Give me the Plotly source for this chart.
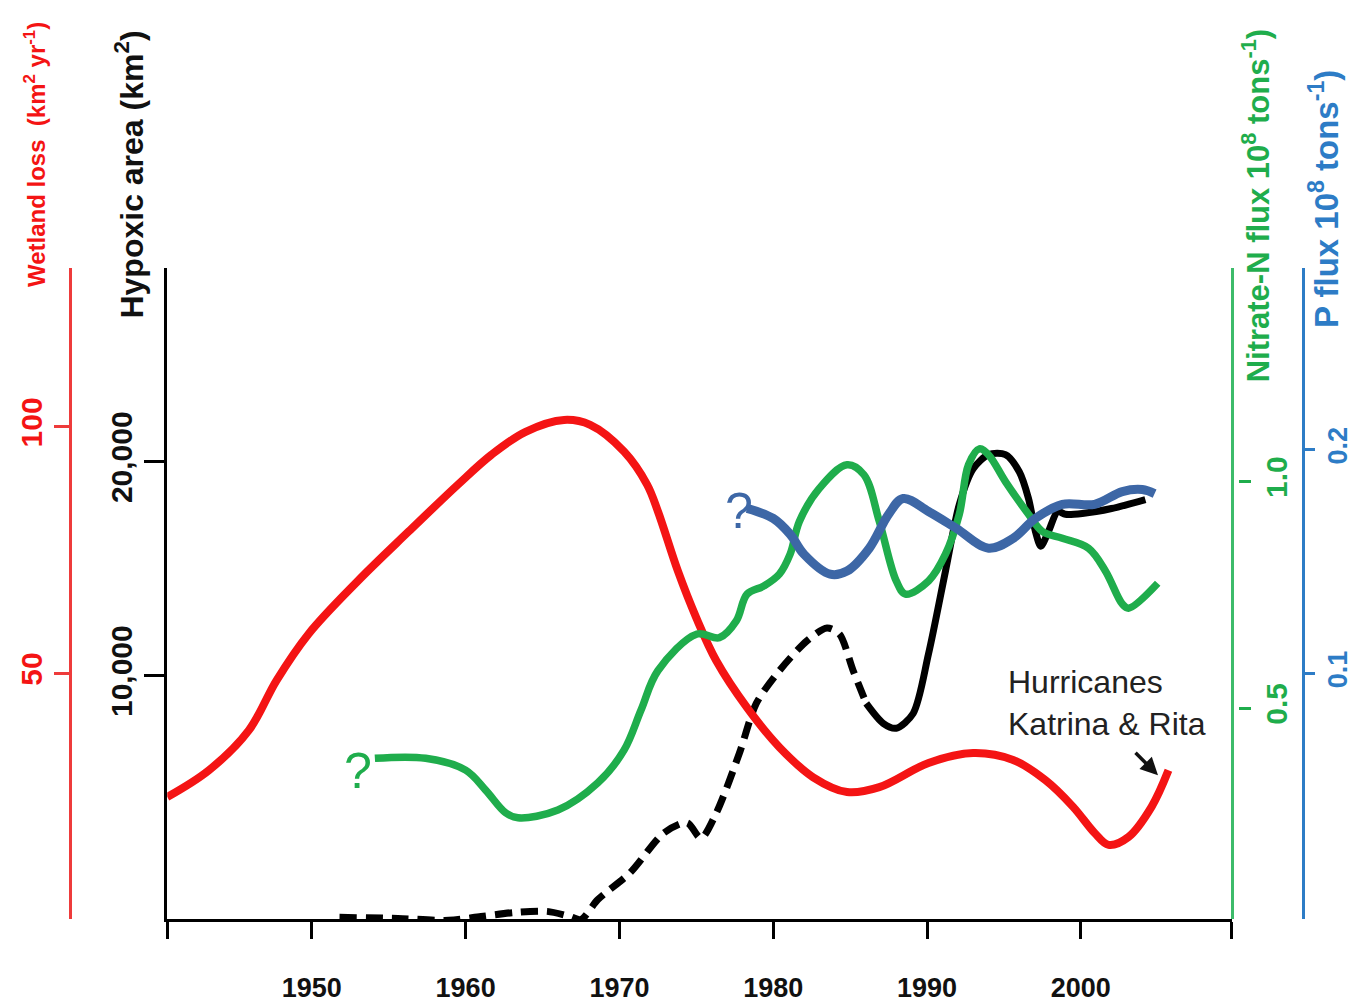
import plotly.graph_objects as go

# ---------------- data ----------------
# Wetland loss (km2 / yr)  -- red
wet_years = [1940.6, 1943.3, 1945.9, 1947.7, 1949.8, 1953.0, 1956.3, 1959.5, 1961.7, 1963.9,
             1966.4, 1968.1, 1970.3, 1971.8, 1972.5, 1973.8, 1975.0, 1976.3, 1978.3, 1980.4,
             1982.6, 1984.8, 1986.9, 1990.1, 1993.0, 1995.6, 1997.7, 1999.5, 2000.9, 2001.8,
             2003.1, 2004.6, 2005.7]
wet_loss = [25.0, 30.4, 38.5, 48.6, 58.1, 68.8, 78.8, 88.3, 94.4, 99.0,
            101.4, 100.4, 95.0, 88.3, 82.9, 70.8, 61.3, 52.6, 43.1, 35.1,
            29.0, 26.0, 27.0, 31.9, 33.9, 32.5, 28.4, 23.0, 17.7, 15.3,
            16.9, 23.0, 30.4]

# Hypoxic area (km2) -- black, dashed (estimated) part and measured part
hyp_est_years = [1951.8, 1955.6, 1958.9, 1961.0, 1963.2, 1965.3, 1966.8, 1967.5, 1968.6, 1970.7,
                 1972.9, 1974.4, 1975.3, 1976.3, 1977.8, 1978.9, 1980.4, 1982.2, 1983.5, 1984.3,
                 1985.2, 1986.05]
hyp_est = [-1300, -1350, -1440, -1260, -1070, -1020, -1260, -1400, -470, 790,
           2650, 3120, 2400, 3580, 6370, 8700, 10230, 11630, 12230, 11950,
           10230, 8700]
hyp_years = [1986.05, 1987.15, 1988.0, 1989.1, 1990.1, 1991.2, 1992.1, 1993.0, 1994.0, 1995.1,
             1996.0, 1996.6, 1997.05, 1997.4, 1997.9, 1998.5, 1999.0, 2000.1, 2002.0, 2004.2]
hyp_area = [8700, 7770, 7540, 8230, 11020, 14880, 18000, 19670, 20330, 20330,
            19530, 18280, 16740, 16050, 16740, 17670, 17540, 17580, 17810, 18230]

# Nitrate-N flux (10^6 tons) -- green
no3_years = [1954.1, 1957.4, 1960.0, 1961.3, 1962.6, 1963.4, 1966.0, 1968.6, 1970.3, 1971.4,
             1972.5, 1975.05, 1976.5, 1977.6, 1978.3, 1979.4, 1980.4, 1981.1, 1981.7, 1983.0,
             1984.8, 1985.9, 1986.9, 1988.0, 1988.6, 1990.1, 1991.2, 1992.1, 1992.7, 1993.4,
             1994.0, 1995.1, 1996.6, 1997.5, 1998.8, 2000.5, 2001.6, 2002.7, 2003.1, 2005.0]
no3_flux = [0.390, 0.390, 0.364, 0.320, 0.270, 0.259, 0.276, 0.336, 0.408, 0.496,
            0.583, 0.664, 0.656, 0.693, 0.752, 0.770, 0.796, 0.840, 0.912, 0.985,
            1.037, 1.015, 0.912, 0.781, 0.752, 0.781, 0.840, 0.928, 1.037, 1.072,
            1.059, 1.000, 0.928, 0.890, 0.875, 0.853, 0.803, 0.730, 0.721, 0.776]

# P flux (10^6 tons) -- blue
p_years = [1978.3, 1980.0, 1981.1, 1982.0, 1983.7, 1984.8, 1986.25, 1987.5, 1988.45, 1990.1,
           1991.9, 1994.0, 1995.6, 1997.05, 1998.8, 2000.9, 2002.7, 2004.0, 2004.8]
p_flux = [0.1738, 0.1693, 0.1622, 0.1533, 0.1444, 0.1458, 0.1560, 0.1711, 0.1782, 0.1724,
          0.1649, 0.1560, 0.1604, 0.1693, 0.1756, 0.1756, 0.1813, 0.1822, 0.1804]

# axis ticks
x_range = [1940.6, 2009.8]
x_tick_years = [1940.6, 1950, 1960, 1970, 1980, 1990, 2000, 2009.8]
x_tick_labels = ["", "1950", "1960", "1970", "1980", "1990", "2000", ""]
wet_ticks = [50, 100]
hyp_ticks = [10000, 20000]
hyp_tick_labels = ["10,000", "20,000"]
no3_ticks = [0.5, 1.0]
no3_tick_labels = ["0.5", "1.0"]
p_ticks = [0.1, 0.2]
p_tick_labels = ["0.1", "0.2"]

# ranges (axis extents)
hyp_range = [-1395, 29070]
wet_range = [0.2, 132.26]
no3_range = [0.035, 1.4715]
p_range = [-0.0098, 0.2813]

# ---------------- style ----------------
W, H = 1353, 1003
RED = "#f41414"
RED_AX = "#ee3b3b"
GREEN = "#1fad4c"
GREEN_AX = "#3dbb6a"
BLUE = "#3d67a6"
BLUE_AX = "#2d7cc6"
FONT = "Liberation Sans, Arial, sans-serif"

def px(xpix):
    return xpix / W

def py(ypix):
    return 1 - ypix / H

x0, x1 = 168, 1237
ytop, ybot = 269, 924
ydom = [py(ybot), py(ytop)]

fig = go.Figure()

fig.add_trace(go.Scatter(x=p_years, y=p_flux, yaxis="y4", mode="lines",
                         line=dict(color=BLUE, width=9, shape="spline", smoothing=1.0),
                         hoverinfo="skip", showlegend=False))
fig.add_trace(go.Scatter(x=no3_years, y=no3_flux, yaxis="y3", mode="lines",
                         line=dict(color=GREEN, width=7.5, shape="spline", smoothing=1.0),
                         hoverinfo="skip", showlegend=False))
fig.add_trace(go.Scatter(x=no3_years, y=no3_flux, yaxis="y5", mode="lines",
                         line=dict(color=GREEN, width=0), opacity=0,
                         hoverinfo="skip", showlegend=False))
fig.add_trace(go.Scatter(x=wet_years, y=wet_loss, yaxis="y2", mode="lines",
                         line=dict(color=RED, width=8, shape="spline", smoothing=1.0),
                         hoverinfo="skip", showlegend=False))
fig.add_trace(go.Scatter(x=hyp_est_years, y=hyp_est, yaxis="y", mode="lines",
                         line=dict(color="black", width=7, shape="spline", smoothing=0.8,
                                   dash="17px,9px"),
                         hoverinfo="skip", showlegend=False))
fig.add_trace(go.Scatter(x=hyp_years, y=hyp_area, yaxis="y", mode="lines",
                         line=dict(color="black", width=7, shape="spline", smoothing=0.8),
                         hoverinfo="skip", showlegend=False))

common_y = dict(showgrid=False, zeroline=False, tickangle=-90, showline=True)

fig.update_layout(
    width=W, height=H, autosize=False,
    margin=dict(l=0, r=0, t=0, b=0),
    paper_bgcolor="white", plot_bgcolor="white",
    font=dict(family=FONT, size=24, color="black", weight="bold"),
    xaxis=dict(domain=[px(x0), px(x1)], range=x_range, showgrid=False, zeroline=False,
               showline=True, linecolor="black", linewidth=3,
               ticks="outside", ticklen=17, tickwidth=2.5, tickcolor="black",
               tickvals=x_tick_years, ticktext=x_tick_labels,
               tickfont=dict(size=27, color="#111111", weight="bold"), ticklabelstandoff=25),
    yaxis=dict(domain=ydom, range=hyp_range, anchor="x", side="left",
               linecolor="black", linewidth=3, ticks="outside", ticklen=20, tickwidth=3,
               tickcolor="black", tickvals=hyp_ticks, ticktext=hyp_tick_labels,
               tickfont=dict(size=30, color="#111111", weight="bold"), **common_y),
    yaxis2=dict(domain=ydom, range=wet_range, overlaying="y", anchor="free",
                position=px(70), side="left", linecolor=RED_AX, linewidth=2.5,
                ticks="outside", ticklen=15, tickwidth=2.5, tickcolor=RED_AX,
                tickvals=wet_ticks, tickfont=dict(size=30, color=RED, weight="bold"),
                **common_y),
    yaxis3=dict(domain=ydom, range=no3_range, overlaying="y", anchor="free",
                position=px(x1), side="right", linecolor=GREEN_AX, linewidth=2.5,
                ticks="", showticklabels=False, **common_y),
    yaxis5=dict(domain=ydom, range=no3_range, overlaying="y", anchor="free",
                position=px(1244), side="right", showgrid=False, zeroline=False,
                showline=False, ticks="outside", ticklen=12, tickwidth=2.5,
                tickcolor=GREEN, tickvals=no3_ticks, ticktext=no3_tick_labels,
                tickangle=-90, tickfont=dict(size=30, color=GREEN, weight="bold")),
    yaxis4=dict(domain=ydom, range=p_range, overlaying="y", anchor="free",
                position=px(1309), side="right", linecolor=BLUE_AX, linewidth=2.5,
                ticks="outside", ticklen=10, tickwidth=2.5, tickcolor=BLUE_AX,
                tickvals=p_ticks, ticktext=p_tick_labels,
                tickfont=dict(size=27, color=BLUE_AX, weight="bold"), **common_y),
)

ann = []
# axis titles
ann.append(dict(text="Wetland loss  (km<sup>2</sup> yr<sup>-1</sup>)", x=px(35), y=py(155),
                xref="paper", yref="paper", textangle=-90, showarrow=False,
                font=dict(size=24, color=RED, weight="bold"), xanchor="center", yanchor="middle"))
ann.append(dict(text="Hypoxic area (km<sup>2</sup>)", x=px(130), y=py(175),
                xref="paper", yref="paper", textangle=-90, showarrow=False,
                font=dict(size=32, color="#111111", weight="bold"), xanchor="center", yanchor="middle"))
ann.append(dict(text="Nitrate-N flux 10<sup>8</sup> tons<sup>-1</sup>)", x=px(1262), y=py(207),
                xref="paper", yref="paper", textangle=-90, showarrow=False,
                font=dict(size=31, color=GREEN, weight="bold"), xanchor="center", yanchor="middle"))
ann.append(dict(text="P flux 10<sup>8</sup> tons<sup>-1</sup>)", x=px(1330), y=py(200),
                xref="paper", yref="paper", textangle=-90, showarrow=False,
                font=dict(size=33, color=BLUE_AX, weight="bold"), xanchor="center", yanchor="middle"))
# question marks at the start of the flux series
ann.append(dict(text="?", x=1953.0, y=0.362, xref="x", yref="y3", showarrow=False,
                font=dict(size=50, color=GREEN, weight="normal")))
ann.append(dict(text="?", x=1977.8, y=0.1724, xref="x", yref="y4", showarrow=False,
                font=dict(size=50, color=BLUE, weight="normal")))
# hurricane note
ann.append(dict(text="Hurricanes<br>Katrina &amp; Rita", x=1995.15, y=py(665),
                xref="x", yref="paper", showarrow=False, align="left",
                xanchor="left", yanchor="top",
                font=dict(size=32, color="#222222", weight="normal")))
ann.append(dict(text="", x=2005.02, y=29.4, xref="x", yref="y2", showarrow=True,
                arrowhead=2, arrowsize=1, arrowwidth=3.5, arrowcolor="#111111",
                ax=-24, ay=-24, standoff=0))
fig.update_layout(annotations=ann)

fig.write_html("out.html", config={"displayModeBar": False},
               post_script="document.body.style.margin='0';")
